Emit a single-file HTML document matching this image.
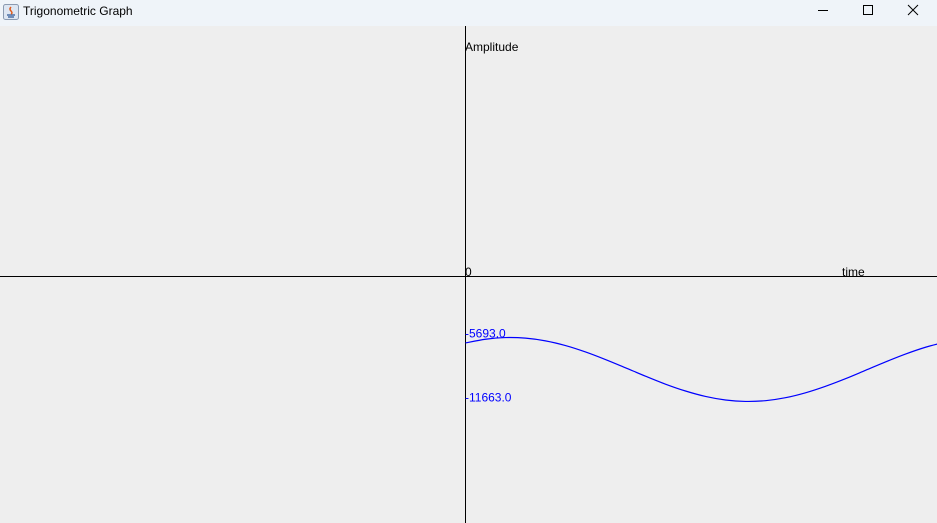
<!DOCTYPE html>
<html><head><meta charset="utf-8"><style>
html,body{margin:0;padding:0;width:937px;height:523px;overflow:hidden;background:#eeeeee;font-family:"Liberation Sans",sans-serif}
#titlebar{position:absolute;left:0;top:0;width:937px;height:26px;background:#eff4f9}
#title{position:absolute;left:23px;top:4px;font-size:12px;color:#000}
svg{position:absolute;left:0;top:0}
</style></head><body>
<div id="titlebar">
<svg width="16" height="16" style="left:3px;top:4px"><rect x="0.5" y="0.5" width="15" height="15" rx="2" fill="#dde6f2" stroke="#8a9ab0"/><path d="M4 11 h8 M5 13 h6" stroke="#4a6fa5" stroke-width="1.5"/><path d="M8 3 q-2 2 0 4 q2 2 0 3" stroke="#e05a1a" stroke-width="1.5" fill="none"/></svg>
<div id="title">Trigonometric Graph</div>
<svg width="937" height="26">
<line x1="818" y1="10.5" x2="828" y2="10.5" stroke="#000"/>
<rect x="863.5" y="5.5" width="9" height="9" fill="none" stroke="#000"/>
<path d="M908 5 L918 15 M918 5 L908 15" stroke="#000"/>
</svg>
</div>
<svg id="chart" width="937" height="523" style="top:0"></svg>
<script>
const tOffsets=[0,20,40,60,80,100,120,140,160,180,200,220,240,260,280,300,320,340,360,380,400,420,440,460,480];
const amplitudes=[-6203,-5854,-5699,-5752,-6006,-6445,-7042,-7750,-8520,-9302,-10045,-10687,-11194,-11526,-11660,-11588,-11311,-10851,-10245,-9538,-8759,-7974,-7239,-6603,-6111];
const tickValues=[-5693.0,-11663.0];
const tickLabels=["-5693.0","-11663.0"];
const NS="http://www.w3.org/2000/svg";
const svg=document.getElementById('chart');
const ox=465.5, oy=276.5, yScale=61/5693;
const X=t=>ox+t, Y=v=>oy-v*yScale;
function mk(tag,attrs){const e=document.createElementNS(NS,tag);for(const k in attrs)e.setAttribute(k,attrs[k]);svg.appendChild(e);return e;}
let e;
e=mk('line',{x1:0,y1:oy,x2:937,y2:oy,stroke:'#000'});


e=mk('line',{x1:ox,y1:26,x2:ox,y2:523,stroke:'#000'});


function txt(x,y,s,fill,name){const t=mk('text',{x:x,y:y,'font-size':12,fill:fill,'font-family':'Liberation Sans, sans-serif'});t.textContent=s;return t;}
txt(465,51,'Amplitude','#000','y-axis-title');
txt(465,276,'0','#000','origin-label');
txt(842,276,'time','#000','x-axis-title');
tickValues.forEach((v,i)=>{txt(465,Y(v),tickLabels[i],'#0000ff','y-tick-label');});
const pts=tOffsets.map((t,i)=>[X(t),Y(amplitudes[i])]);
let d='M'+pts[0][0]+','+pts[0][1];
for(let i=0;i<pts.length-1;i++){const p0=pts[i-1]||pts[i],p1=pts[i],p2=pts[i+1],p3=pts[i+2]||p2;
d+=' C'+(p1[0]+(p2[0]-p0[0])/6)+','+(p1[1]+(p2[1]-p0[1])/6)+' '+(p2[0]-(p3[0]-p1[0])/6)+','+(p2[1]-(p3[1]-p1[1])/6)+' '+p2[0]+','+p2[1];}
e=mk('path',{d:d,fill:'none',stroke:'#0000ff','stroke-width':1.2});


</script>
</body></html>
